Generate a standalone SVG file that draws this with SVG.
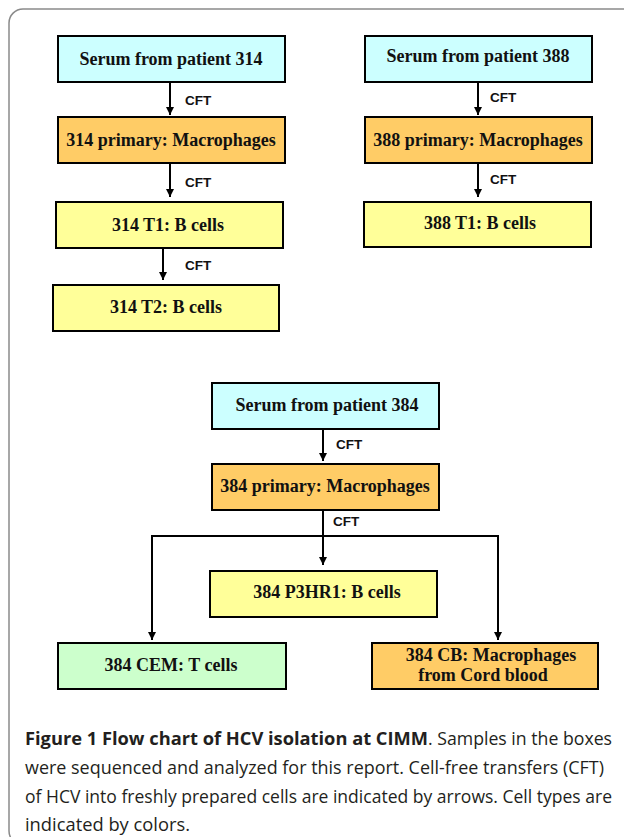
<svg xmlns="http://www.w3.org/2000/svg" width="624" height="837" viewBox="0 0 624 837">
<defs>
<marker id="ah" viewBox="0 0 10 10" refX="10" refY="5" markerWidth="8" markerHeight="8" markerUnits="userSpaceOnUse" orient="auto">
<path d="M0,0 L10,5 L0,10 z" fill="#000"/>
</marker>
<style>
.box{stroke:#000;stroke-width:2}
.cyan{fill:#ccffff}.orange{fill:#ffcc66}.yellow{fill:#ffff99}.green{fill:#ccffcc}
.bt{font-family:"Liberation Serif","Times New Roman",serif;font-weight:bold;font-size:18px;fill:#111;text-anchor:middle}
.cft{font-family:"Liberation Sans",Arial,sans-serif;font-weight:bold;font-size:13.5px;fill:#111}
.ln{stroke:#000;stroke-width:2;fill:none}
.cap{font-family:"Open Sans","Noto Sans",sans-serif;font-size:17.5px;fill:#231f20}
</style>
</defs>
<rect x="9" y="9" width="640" height="836" rx="14" ry="14" fill="#fff" stroke="#8a8a8a" stroke-width="1.5"/>

<g id="connectors">
<line class="ln" x1="170" y1="82" x2="170" y2="115" marker-end="url(#ah)"/>
<text class="cft" x="185" y="105">CFT</text>
<line class="ln" x1="170" y1="163" x2="170" y2="197" marker-end="url(#ah)"/>
<text class="cft" x="185" y="187">CFT</text>
<line class="ln" x1="163" y1="248" x2="163" y2="280" marker-end="url(#ah)"/>
<text class="cft" x="185" y="270">CFT</text>

<line class="ln" x1="478" y1="82" x2="478" y2="115" marker-end="url(#ah)"/>
<text class="cft" x="490" y="102">CFT</text>
<line class="ln" x1="478" y1="163" x2="478" y2="197" marker-end="url(#ah)"/>
<text class="cft" x="490" y="184">CFT</text>

<line class="ln" x1="323" y1="429" x2="323" y2="461" marker-end="url(#ah)"/>
<text class="cft" x="336" y="449">CFT</text>
<line class="ln" x1="323" y1="510" x2="323" y2="565" marker-end="url(#ah)"/>
<text class="cft" x="333" y="526">CFT</text>
<polyline class="ln" points="152,640 152,536 498,536 498,640" marker-end="url(#ah)"/>
<line class="ln" x1="152" y1="536" x2="152" y2="640" marker-end="url(#ah)"/>
</g>

<g id="serum314"><rect class="box cyan" x="58" y="36" width="227" height="46"/><text class="bt" x="171" y="65">Serum from patient 314</text></g>
<g id="primary314"><rect class="box orange" x="58" y="117" width="227" height="46"/><text class="bt" x="171" y="146">314 primary: Macrophages</text></g>
<g id="t1_314"><rect class="box yellow" x="56" y="202" width="227" height="46"/><text class="bt" x="168" y="231">314 T1: B cells</text></g>
<g id="t2_314"><rect class="box yellow" x="53" y="285" width="226" height="46"/><text class="bt" x="166" y="313">314 T2: B cells</text></g>

<g id="serum388"><rect class="box cyan" x="365" y="36" width="227" height="46"/><text class="bt" x="478" y="62">Serum from patient 388</text></g>
<g id="primary388"><rect class="box orange" x="365" y="117" width="227" height="46"/><text class="bt" x="478" y="146">388 primary: Macrophages</text></g>
<g id="t1_388"><rect class="box yellow" x="364" y="202" width="227" height="45"/><text class="bt" x="480" y="229">388 T1: B cells</text></g>

<g id="serum384"><rect class="box cyan" x="212" y="383" width="227" height="46"/><text class="bt" x="327" y="411">Serum from patient 384</text></g>
<g id="primary384"><rect class="box orange" x="212" y="464" width="227" height="46"/><text class="bt" x="325" y="492">384 primary: Macrophages</text></g>
<g id="p3hr1_384"><rect class="box yellow" x="210" y="571" width="227" height="46"/><text class="bt" x="327" y="598">384 P3HR1: B cells</text></g>
<g id="cem384"><rect class="box green" x="58" y="643" width="228" height="46"/><text class="bt" x="171" y="671">384 CEM: T cells</text></g>
<g id="cb384"><rect class="box orange" x="372" y="643" width="226" height="46"/><text class="bt" x="491" y="661">384 CB: Macrophages</text><text class="bt" x="483" y="681">from Cord blood</text></g>

<g id="caption">
<text class="cap" x="25" y="745" font-weight="bold" textLength="403" lengthAdjust="spacingAndGlyphs">Figure 1  Flow chart of HCV isolation at CIMM</text>
<text class="cap" x="428" y="745" textLength="184" lengthAdjust="spacingAndGlyphs">. Samples in the boxes</text>
<text class="cap" x="25" y="774" textLength="579" lengthAdjust="spacingAndGlyphs">were sequenced and analyzed for this report. Cell-free transfers (CFT)</text>
<text class="cap" x="25" y="803" textLength="587" lengthAdjust="spacingAndGlyphs">of HCV into freshly prepared cells are indicated by arrows. Cell types are</text>
<text class="cap" x="25" y="831" textLength="165" lengthAdjust="spacingAndGlyphs">indicated by colors.</text>
</g>
</svg>
